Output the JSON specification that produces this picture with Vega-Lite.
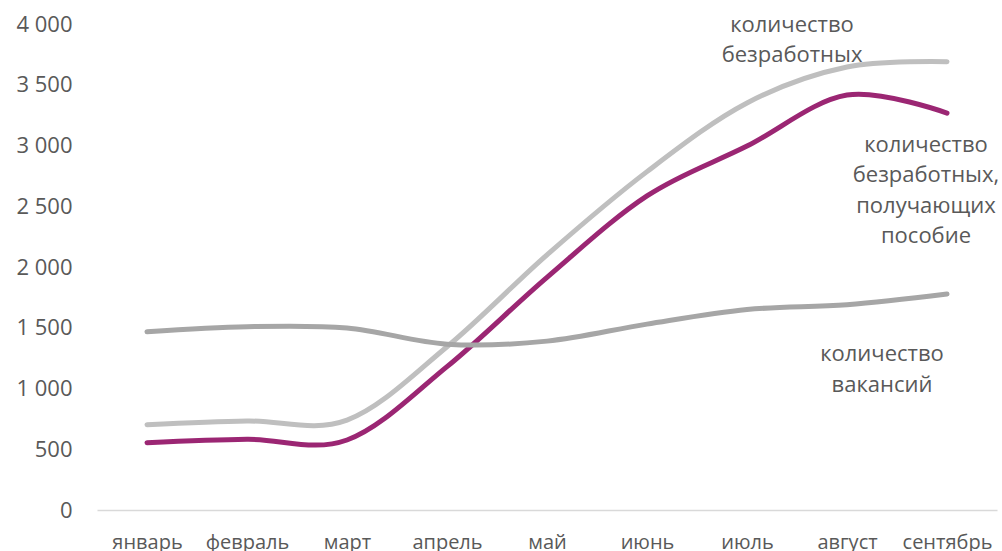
{
  "$schema": "https://vega.github.io/schema/vega-lite/v6.json",
  "autosize": "none",
  "width": 900,
  "height": 486,
  "padding": {"left": 97, "top": 24, "right": 5, "bottom": 41},
  "background": "white",
  "config": {
    "view": {"stroke": null},
    "font": "Open Sans",
    "locale": {"number": {"decimal": ",", "thousands": " ", "grouping": [3], "currency": ["", ""]}}
  },
  "datasets": {
    "series": [
      {"month": "январь", "series": "безработные", "value": 702},
      {"month": "февраль", "series": "безработные", "value": 732},
      {"month": "март", "series": "безработные", "value": 740},
      {"month": "апрель", "series": "безработные", "value": 1344},
      {"month": "май", "series": "безработные", "value": 2100},
      {"month": "июнь", "series": "безработные", "value": 2785},
      {"month": "июль", "series": "безработные", "value": 3350},
      {"month": "август", "series": "безработные", "value": 3646},
      {"month": "сентябрь", "series": "безработные", "value": 3690},
      {"month": "январь", "series": "пособие", "value": 554},
      {"month": "февраль", "series": "пособие", "value": 582},
      {"month": "март", "series": "пособие", "value": 576},
      {"month": "апрель", "series": "пособие", "value": 1180},
      {"month": "май", "series": "пособие", "value": 1915},
      {"month": "июнь", "series": "пособие", "value": 2585},
      {"month": "июль", "series": "пособие", "value": 2995},
      {"month": "август", "series": "пособие", "value": 3415},
      {"month": "сентябрь", "series": "пособие", "value": 3267},
      {"month": "январь", "series": "вакансии", "value": 1467},
      {"month": "февраль", "series": "вакансии", "value": 1509},
      {"month": "март", "series": "вакансии", "value": 1498},
      {"month": "апрель", "series": "вакансии", "value": 1365},
      {"month": "май", "series": "вакансии", "value": 1390},
      {"month": "июнь", "series": "вакансии", "value": 1530},
      {"month": "июль", "series": "вакансии", "value": 1650},
      {"month": "август", "series": "вакансии", "value": 1690},
      {"month": "сентябрь", "series": "вакансии", "value": 1778}
    ]
  },
  "encoding": {
    "x": {
      "field": "month",
      "type": "ordinal",
      "sort": ["январь", "февраль", "март", "апрель", "май", "июнь", "июль", "август", "сентябрь"],
      "scale": {"type": "point", "padding": 0.5},
      "axis": {
        "title": null,
        "labelAngle": 0,
        "ticks": false,
        "tickSize": 0,
        "labelPadding": 22,
        "labelFontSize": 20,
        "labelColor": "#595959",
        "labelFont": "Open Sans",
        "domainColor": "#d9d9d9",
        "domainWidth": 1.5,
        "grid": false
      }
    },
    "y": {
      "field": "value",
      "type": "quantitative",
      "scale": {"domain": [0, 4000], "nice": false},
      "axis": {
        "title": null,
        "values": [0, 500, 1000, 1500, 2000, 2500, 3000, 3500, 4000],
        "format": ",d",
        "domain": false,
        "ticks": false,
        "grid": false,
        "labelPadding": 25,
        "labelFontSize": 22,
        "labelColor": "#595959",
        "labelFont": "Open Sans"
      }
    }
  },
  "layer": [
    {
      "data": {"name": "series"},
      "mark": {"type": "line", "interpolate": "cardinal", "strokeWidth": 5, "strokeCap": "round", "clip": false},
      "encoding": {
        "color": {
          "field": "series",
          "type": "nominal",
          "scale": {"domain": ["безработные", "пособие", "вакансии"], "range": ["#bfbfbf", "#9b2673", "#a6a6a6"]},
          "legend": null
        }
      }
    },
    {
      "data": {"values": [{"month": "июль", "value": 3934, "label": "количество\nбезработных"}]},
      "mark": {"type": "text", "lineBreak": "\n", "align": "center", "baseline": "alphabetic", "dx": 45, "fontSize": 22, "lineHeight": 30, "color": "#595959", "font": "Open Sans"},
      "encoding": {"text": {"field": "label"}}
    },
    {
      "data": {"values": [{"month": "сентябрь", "value": 2949, "label": "количество\nбезработных,\nполучающих\nпособие"}]},
      "mark": {"type": "text", "lineBreak": "\n", "align": "center", "baseline": "alphabetic", "dx": -21, "fontSize": 22, "lineHeight": 30.5, "color": "#595959", "font": "Open Sans"},
      "encoding": {"text": {"field": "label"}}
    },
    {
      "data": {"values": [{"month": "август", "value": 1229, "label": "количество\nвакансий"}]},
      "mark": {"type": "text", "lineBreak": "\n", "align": "center", "baseline": "alphabetic", "dx": 35, "fontSize": 22, "lineHeight": 31, "color": "#595959", "font": "Open Sans"},
      "encoding": {"text": {"field": "label"}}
    }
  ]
}
